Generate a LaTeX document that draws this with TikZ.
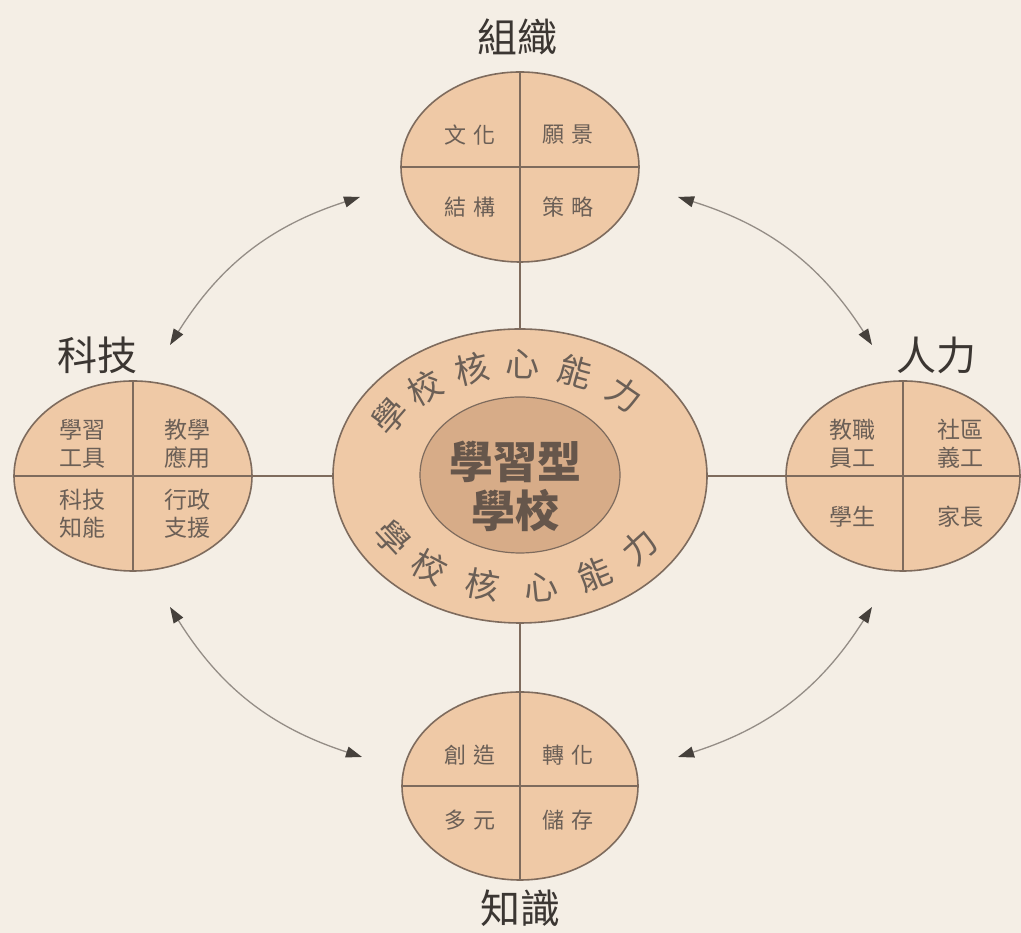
\documentclass[tikz,border=0pt]{standalone}
\usepackage{fontspec}
\setmainfont{Noto Sans CJK TC}
\usetikzlibrary{shapes.geometric,arrows.meta}
\definecolor{bg}{HTML}{F4EEE5}
\definecolor{fillc}{HTML}{EFC9A6}
\definecolor{innerc}{HTML}{D7AC88}
\definecolor{linec}{HTML}{7E6B5D}
\definecolor{txtc}{HTML}{6B5F56}
\definecolor{midc}{HTML}{66564B}
\definecolor{labc}{HTML}{3B3632}
\definecolor{arrc}{HTML}{948D86}
\definecolor{headc}{HTML}{45403B}
\newcommand{\gp}{\hspace{0.3em}}
\begin{document}
\begin{tikzpicture}[x=1pt,y=1pt,
  blob/.style={ellipse, draw=linec, line width=1.6pt, fill=fillc, inner sep=0pt,
    minimum width=238pt, minimum height=190pt},
  conn/.style={draw=linec, line width=1.4pt},
  qtext/.style={text=txtc, font=\fontsize{22pt}{27pt}\selectfont, align=center, inner sep=0pt},
  stext/.style={text=txtc, font=\fontsize{23pt}{28pt}\selectfont, align=center, inner sep=0pt},
  lab/.style={text=labc, font=\fontsize{40pt}{44pt}\selectfont, inner sep=0pt},
  ctext/.style={text=txtc, font=\fontsize{34pt}{36pt}\selectfont, inner sep=0pt},
  link/.style={draw=arrc, line width=1.3pt,
    {Triangle[length=16pt,width=11pt,color=headc]}-{Triangle[length=16pt,width=11pt,color=headc]}}
]
\useasboundingbox (0,0) rectangle (1021,933);
\fill[bg] (0,0) rectangle (1021,933);

% ellipses
\node[blob] (top) at (520,766) {};
\node[blob, minimum width=236pt, minimum height=188pt] (bot) at (520,147) {};
\node[blob] (left) at (133,457) {};
\node[blob, minimum width=234pt] (right) at (903,457) {};
\node[blob, minimum width=374pt, minimum height=294pt] (mid) at (520,457) {};
\node[ellipse, draw=linec, line width=1.2pt, fill=innerc, inner sep=0pt,
  minimum width=200pt, minimum height=156pt] (inner) at (520,458) {};

% dividers
\foreach \n in {top,bot,left,right}{
  \draw[conn] (\n.north) -- (\n.south);
  \draw[conn] (\n.west) -- (\n.east);
}
% connectors
\draw[conn] (top.south) -- (mid.north);
\draw[conn] (mid.south) -- (bot.north);
\draw[conn] (left.east) -- (mid.west);
\draw[conn] (mid.east) -- (right.west);

% labels
\node[lab] (lorg) at (517,896) {組織};
\node[lab] (lknow) at (520,25) {知識};
\node[lab] (ltech) at (97,578) {科技};
\node[lab] (lhum) at (936,578) {人力};

% top quadrants
\node[qtext] (t1) at (470,798) {文\gp 化};
\node[qtext] (t2) at (568,798) {願\gp 景};
\node[qtext] (t3) at (470,726) {結\gp 構};
\node[qtext] (t4) at (568,726) {策\gp 略};
% bottom quadrants
\node[qtext] (b1) at (470,178) {創\gp 造};
\node[qtext] (b2) at (568,178) {轉\gp 化};
\node[qtext] (b3) at (470,113) {多\gp 元};
\node[qtext] (b4) at (568,113) {儲\gp 存};
% left quadrants
\node[stext] (l1) at (82,489) {學習\\工具};
\node[stext] (l2) at (187,489) {教學\\應用};
\node[stext] (l3) at (82,419) {科技\\知能};
\node[stext] (l4) at (187,419) {行政\\支援};
% right quadrants
\node[stext] (r1) at (852,489) {教職\\員工};
\node[stext] (r2) at (960,489) {社區\\義工};
\node[stext] (r3) at (852,416) {學生};
\node[stext] (r4) at (960,416) {家長};

% center text
\node[text=midc, font=\bfseries\fontsize{44pt}{49pt}\selectfont, align=center, inner sep=0pt] (core) at (515,447) {學習型\\學校};

\foreach \ch/\t in {學/148,校/128,核/108,心/89,能/69,力/47}{
  \node[ctext, rotate={atan2(-112*cos(\t),154*sin(\t))}] (u\t) at ({520+154*cos(\t)},{457+112*sin(\t)}) {\ch};
}
\foreach \ch/\t in {學/214,校/234,核/256,心/278,能/299,力/321}{
  \node[ctext, rotate={atan2(112*cos(\t),-154*sin(\t))}] (d\t) at ({520+154*cos(\t)},{457+112*sin(\t)}) {\ch};
}

% arrows
\coordinate (tlA) at (170,588);
\coordinate (tlB) at (360,736);
\coordinate (trA) at (678,736);
\coordinate (trB) at (872,588);
\coordinate (brA) at (872,326);
\coordinate (brB) at (678,176);
\coordinate (blA) at (362,176);
\coordinate (blB) at (170,326);
\draw[link] (tlA) to[bend left=20] (tlB);
\draw[link] (trA) to[bend left=20] (trB);
\draw[link] (brA) to[bend left=20] (brB);
\draw[link] (blA) to[bend left=20] (blB);
\end{tikzpicture}
\end{document}
